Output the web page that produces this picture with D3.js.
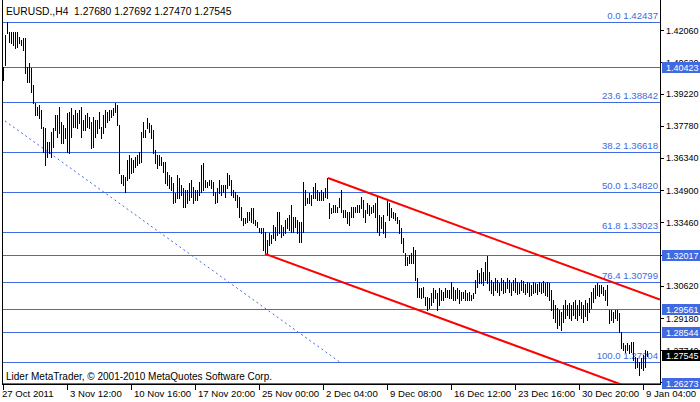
<!DOCTYPE html>
<html><head><meta charset="utf-8">
<script src="https://cdn.jsdelivr.net/npm/d3@7"></script>
<style>html,body{margin:0;padding:0;background:#fff;overflow:hidden}</style>
</head><body>
<svg id="c" width="700" height="402"></svg>
<script>
const titleText = "EURUSD.,H4  1.27680 1.27692 1.27470 1.27545";
const copyrightText = "Lider MetaTrader, \u00a9 2001-2010 MetaQuotes Software Corp.";

const highs = [
1.4041,1.4184,1.4244,1.4197,1.4197,1.4197,1.4197,1.4197,1.4175,1.4161,
1.4170,1.4170,1.4041,1.4058,1.4036,1.3960,1.3880,1.3862,1.3871,1.3848,
1.3772,1.3768,1.3705,1.3705,1.3750,1.3768,1.3826,1.3826,1.3862,1.3795,
1.3781,1.3768,1.3835,1.3839,1.3857,1.3826,1.3848,1.3835,1.3848,1.3862,
1.3804,1.3826,1.3835,1.3817,1.3795,1.3817,1.3804,1.3804,1.3839,1.3772,
1.3826,1.3848,1.3839,1.3848,1.3848,1.3857,1.3880,1.3871,1.3781,
1.3558,1.3558,1.3549,1.3625,1.3647,1.3634,1.3625,1.3638,1.3647,1.3661,
1.3750,1.3795,1.3759,1.3813,1.3790,1.3781,1.3759,1.3670,1.3647,1.3647,
1.3638,1.3616,1.3616,1.3571,1.3558,1.3549,1.3522,1.3477,1.3558,1.3544,
1.3513,1.3500,1.3491,1.3491,1.3522,1.3535,1.3504,1.3491,1.3491,1.3527,
1.3602,1.3611,1.3535,1.3527,1.3535,1.3535,1.3527,1.3482,1.3500,1.3535,
1.3513,1.3513,1.3513,1.3567,1.3558,1.3535,1.3491,1.3482,1.3468,1.3459,
1.3415,1.3366,1.3366,1.3392,1.3392,1.3410,1.3410,1.3357,1.3348,1.3321,
1.3321,1.3321,1.3303,1.3267,1.3299,1.3290,1.3334,1.3325,1.3392,1.3392,
1.3334,1.3325,1.3357,1.3366,1.3379,1.3424,1.3370,1.3370,1.3357,1.3348,
1.3348,1.3527,1.3491,1.3455,1.3477,1.3468,1.3504,1.3522,1.3491,1.3482,
1.3491,1.3482,1.3500,1.3544,1.3433,1.3410,1.3424,1.3424,1.3415,1.3455,
1.3491,1.3401,1.3401,1.3392,1.3392,1.3415,1.3415,1.3415,1.3424,1.3424,
1.3459,1.3446,1.3401,1.3433,1.3424,1.3415,1.3424,1.3433,1.3459,1.3379,
1.3370,1.3379,1.3348,1.3446,1.3433,1.3410,1.3392,1.3388,1.3370,1.3357,
1.3321,1.3276,1.3209,1.3191,1.3200,1.3209,1.3236,1.3223,1.3097,1.3053,
1.3053,1.3057,1.3012,1.3012,1.3008,1.3030,1.3053,1.3044,1.3030,1.3053,
1.3044,1.3035,1.3053,1.3044,1.3044,1.3079,1.3057,1.3044,1.3053,1.3044,
1.3035,1.3035,1.3044,1.3030,1.3035,1.3021,1.3030,1.3088,1.3133,1.3120,
1.3142,1.3124,1.3169,1.3196,1.3124,1.3088,1.3079,1.3097,1.3088,1.3075,
1.3097,1.3088,1.3079,1.3097,1.3088,1.3075,1.3088,1.3097,1.3079,1.3075,
1.3088,1.3084,1.3071,1.3079,1.3075,1.3066,1.3079,1.3075,1.3071,1.3079,
1.3075,1.3084,1.3075,1.3079,1.3075,1.3044,1.2999,1.2977,1.2963,1.2954,
1.2945,1.2977,1.2999,1.2977,1.2986,1.2977,1.2990,1.2999,1.2977,1.2999,
1.2990,1.2977,1.2999,1.2986,1.3008,1.3035,1.3053,1.3066,1.3075,1.3066,
1.3066,1.3057,1.3044,1.3066,1.2954,1.2954,1.2945,1.2954,1.2954,1.2941,
1.2856,1.2807,1.2798,1.2807,1.2798,1.2811,1.2811,1.2744,1.2740,1.2722,
1.2740,1.2753,1.2775,1.2769
];
const lows = [
1.3982,1.4049,1.4193,1.4152,1.4148,1.4139,1.4125,1.4130,1.4148,1.4139,
1.4117,1.4014,1.3973,1.3973,1.3929,1.3880,1.3826,1.3826,1.3813,1.3768,
1.3661,1.3602,1.3638,1.3656,1.3638,1.3683,1.3759,1.3728,1.3746,1.3701,
1.3701,1.3723,1.3661,1.3656,1.3728,1.3772,1.3772,1.3768,1.3790,1.3728,
1.3759,1.3759,1.3772,1.3768,1.3678,1.3683,1.3728,1.3746,1.3768,1.3723,
1.3746,1.3772,1.3795,1.3804,1.3817,1.3826,1.3839,1.3781,1.3567,
1.3522,1.3513,1.3482,1.3535,1.3544,1.3567,1.3571,1.3594,1.3602,1.3611,
1.3616,1.3728,1.3728,1.3768,1.3750,1.3723,1.3656,1.3611,1.3589,1.3602,
1.3602,1.3571,1.3522,1.3513,1.3500,1.3491,1.3433,1.3437,1.3455,1.3455,
1.3468,1.3415,1.3415,1.3433,1.3446,1.3459,1.3433,1.3446,1.3446,1.3468,
1.3482,1.3491,1.3504,1.3504,1.3513,1.3500,1.3468,1.3433,1.3437,1.3477,
1.3468,1.3482,1.3459,1.3500,1.3513,1.3468,1.3459,1.3446,1.3415,1.3370,
1.3357,1.3334,1.3343,1.3348,1.3357,1.3348,1.3343,1.3334,1.3325,1.3303,
1.3299,1.3223,1.3205,1.3205,1.3245,1.3254,1.3276,1.3267,1.3290,1.3299,
1.3281,1.3290,1.3299,1.3321,1.3312,1.3303,1.3303,1.3325,1.3299,1.3258,
1.3258,1.3303,1.3424,1.3433,1.3433,1.3424,1.3455,1.3455,1.3446,1.3446,
1.3446,1.3446,1.3459,1.3455,1.3366,1.3388,1.3392,1.3392,1.3392,1.3415,
1.3392,1.3370,1.3370,1.3343,1.3334,1.3370,1.3370,1.3392,1.3392,1.3392,
1.3410,1.3370,1.3348,1.3388,1.3379,1.3388,1.3392,1.3370,1.3303,1.3290,
1.3321,1.3299,1.3281,1.3379,1.3357,1.3370,1.3366,1.3357,1.3343,1.3299,
1.3254,1.3214,1.3155,1.3155,1.3164,1.3164,1.3164,1.3088,1.3012,1.3012,
1.3008,1.3012,1.2977,1.2954,1.2963,1.2977,1.2990,1.3008,1.2954,1.2977,
1.2999,1.2999,1.3012,1.3012,1.3008,1.3008,1.2999,1.2999,1.3008,1.2986,
1.2999,1.3008,1.2999,1.2999,1.2999,1.2999,1.3008,1.3030,1.3057,1.3075,
1.3075,1.3066,1.3088,1.3075,1.3044,1.3030,1.3021,1.3044,1.3035,1.3021,
1.3044,1.3030,1.3035,1.3053,1.3035,1.3021,1.3044,1.3035,1.3026,1.3030,
1.3044,1.3035,1.3026,1.3035,1.3017,1.3021,1.3030,1.3035,1.3026,1.3039,
1.3030,1.3035,1.3021,1.3017,1.2999,1.2954,1.2919,1.2901,1.2874,1.2887,
1.2865,1.2901,1.2919,1.2932,1.2919,1.2910,1.2932,1.2919,1.2910,1.2932,
1.2919,1.2901,1.2927,1.2910,1.2945,1.2963,1.2990,1.3008,1.3021,1.3017,
1.3030,1.3021,1.2999,1.2977,1.2896,1.2910,1.2901,1.2919,1.2910,1.2856,
1.2784,1.2775,1.2767,1.2775,1.2762,1.2767,1.2731,1.2695,1.2699,1.2664,
1.2695,1.2686,1.2699,1.2747
];

const timeLabels = ["27 Oct 2011","3 Nov 12:00","10 Nov 16:00","17 Nov 20:00","25 Nov 00:00",
  "2 Dec 04:00","9 Dec 08:00","16 Dec 12:00","23 Dec 16:00","30 Dec 20:00","9 Jan 04:00"];
const timeLabelBars = [0,32,64,96,128,160,192,224,256,288,320];

const priceTicks = [1.42060,1.40620,1.39220,1.37780,1.36340,1.34900,1.33460,1.32020,1.30620,1.29180,1.27740,1.26300];

const fibRatios = [0.0,23.6,38.2,50.0,61.8,76.4,100.0];
const fibPrices = [1.42437,1.38842,1.36618,1.34820,1.33023,1.30799,1.27204];
const fibTrend = [[-68,1.42437],[168.5,1.27204]];

const hLinePrices = [1.40423,1.32017,1.29561,1.28544,1.26273];
const lastPrice = 1.27545;

const channelUpper = [[162.5,1.3544],[328.5,1.3000]];
const channelLower = [[131,1.3205],[310,1.2618]];

// ---------- drawing ----------
const W = 700, H = 402;
const plotL = 2, plotR = 660, plotT = 0, plotB = 384;
const BLUE = "#4169e1";
const FONT = "'Liberation Sans', Arial, sans-serif";

const svg = d3.select("#c");
const x = d3.scaleLinear().domain([0, 328.5]).range([3, 660]);
const y = d3.scaleLinear().domain([1.26229, 1.43402]).range([plotB, plotT]);

svg.append("rect").attr("width", W).attr("height", H).attr("fill", "#fff");

svg.append("clipPath").attr("id","plotClip").append("rect")
  .attr("x", plotL).attr("y", plotT).attr("width", plotR - plotL).attr("height", plotB - plotT);

const plot = svg.append("g").attr("clip-path","url(#plotClip)");
const px = v => Math.round(v) + 0.5;

// horizontal lines (fib levels + plain lines)
const allLevels = fibPrices.concat(hLinePrices);
plot.selectAll("line.lvl").data(allLevels).enter().append("line")
  .attr("x1", plotL).attr("x2", plotR)
  .attr("y1", d => px(y(d))).attr("y2", d => px(y(d)))
  .attr("stroke", BLUE).attr("stroke-width", 1).attr("shape-rendering","crispEdges");

// fib labels
plot.selectAll("text.fib").data(fibRatios).enter().append("text")
  .attr("x", 658).attr("y", (d,i) => y(fibPrices[i]) - 3)
  .attr("text-anchor","end").attr("fill", BLUE)
  .attr("font-family", FONT).attr("font-size", "9.6px")
  .text((d,i) => d.toFixed(1) + " " + fibPrices[i].toFixed(5));

// fib trend dotted line
const lineGen = d3.line().x(d => x(d[0])).y(d => y(d[1]));
plot.append("path").datum(fibTrend).attr("d", lineGen)
  .attr("fill","none").attr("stroke", BLUE).attr("stroke-width", 1)
  .attr("stroke-dasharray","2,3");

// bars
const bars = highs.map((h,i) => ({i, h, l: lows[i]}));
plot.selectAll("line.bar").data(bars).enter().append("line")
  .attr("x1", d => px(x(d.i))).attr("x2", d => px(x(d.i)))
  .attr("y1", d => Math.round(y(d.h))).attr("y2", d => Math.round(y(d.l)) + 1)
  .attr("stroke", "#000").attr("stroke-width", 1).attr("shape-rendering","crispEdges");

// channel
[channelUpper, channelLower].forEach(c => {
  plot.append("path").datum(c).attr("d", lineGen)
    .attr("fill","none").attr("stroke","#ff0000").attr("stroke-width", 2);
});

// title & copyright
svg.append("text").attr("x", 6).attr("y", 15).attr("font-family", FONT).attr("font-size", "10.3px")
  .attr("fill","#000").style("white-space","pre").text(titleText);
svg.append("text").attr("x", 6).attr("y", 380).attr("font-family", FONT).attr("font-size", "10px")
  .attr("fill","#000").text(copyrightText);

// frame
svg.append("line").attr("x1", plotL + 0.5).attr("x2", plotL + 0.5).attr("y1", 0).attr("y2", plotB + 1)
  .attr("stroke","#000").attr("shape-rendering","crispEdges");
svg.append("line").attr("x1", plotR + 0.5).attr("x2", plotR + 0.5).attr("y1", 0).attr("y2", plotB + 1)
  .attr("stroke","#000").attr("shape-rendering","crispEdges");
svg.append("line").attr("x1", plotL).attr("x2", plotR + 1).attr("y1", plotB + 0.5).attr("y2", plotB + 0.5)
  .attr("stroke","#000").attr("shape-rendering","crispEdges");

// price axis (labels fully covered by a price box are not drawn)
const PFS = "9px";
const boxPrices = hLinePrices.concat([lastPrice]);
const pa = svg.append("g");
priceTicks.forEach(p => {
  const yy = px(y(p));
  pa.append("line").attr("x1", plotR + 1).attr("x2", plotR + 4).attr("y1", yy).attr("y2", yy)
    .attr("stroke","#000").attr("shape-rendering","crispEdges");
  const covered = boxPrices.some(b => Math.abs(y(b) - y(p)) < 2);
  if (!covered) {
    pa.append("text").attr("x", 666).attr("y", y(p) + 3.5).attr("font-family", FONT).attr("font-size", PFS)
      .attr("fill","#000").text(p.toFixed(5));
  }
});

// price boxes
function priceBox(p, bg) {
  const yy = Math.round(y(p));
  pa.append("rect").attr("x", plotR + 2).attr("y", yy - 5).attr("width", W - plotR - 2).attr("height", 11)
    .attr("fill", bg).attr("shape-rendering","crispEdges");
  pa.append("text").attr("x", 666).attr("y", yy + 4).attr("font-family", FONT).attr("font-size", PFS)
    .attr("fill","#fff").text(p.toFixed(5));
}
hLinePrices.forEach(p => priceBox(p, BLUE));
priceBox(lastPrice, "#000");

// time axis
const ta = svg.append("g");
timeLabelBars.forEach((b,k) => {
  const xx = px(x(b));
  ta.append("line").attr("x1", xx).attr("x2", xx).attr("y1", plotB + 1).attr("y2", plotB + 6)
    .attr("stroke","#000").attr("shape-rendering","crispEdges");
  ta.append("text").attr("x", k === 0 ? 2 : xx + 2.5).attr("y", 397).attr("font-family", FONT).attr("font-size", "9.6px")
    .attr("fill","#000").text(timeLabels[k]);
});
</script>
</body></html>
